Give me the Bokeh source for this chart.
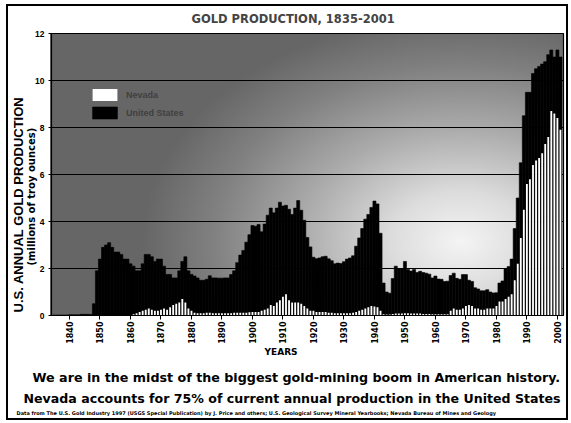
from math import pi
from bokeh.plotting import figure
from bokeh.models import Range1d, FixedTicker, Title, Legend, LegendItem, ColumnDataSource
from bokeh.embed import file_html
from bokeh.resources import INLINE

# ---------------- data (millions of troy ounces) ----------------
years = list(range(1835, 2002))

us_production = [
    # 1835-1847
    0.02, 0.02, 0.02, 0.02, 0.02, 0.03, 0.03, 0.03, 0.03, 0.05, 0.05, 0.05, 0.04,
    # 1848-1859
    0.5, 1.9, 2.4, 2.9, 3.0, 3.1, 2.9, 2.7, 2.7, 2.6, 2.4, 2.4,
    # 1860s
    2.2, 2.1, 1.9, 1.9, 2.2, 2.6, 2.6, 2.5, 2.3, 2.4,
    # 1870s
    2.4, 2.1, 1.75, 1.75, 1.6, 1.6, 1.9, 2.3, 2.5, 1.9,
    # 1880s
    1.75, 1.68, 1.6, 1.5, 1.5, 1.54, 1.69, 1.6, 1.6, 1.59,
    # 1890s
    1.59, 1.6, 1.6, 1.74, 1.9, 2.25, 2.57, 2.77, 3.12, 3.44,
    # 1900s
    3.83, 3.8, 3.87, 3.56, 3.89, 4.27, 4.57, 4.37, 4.57, 4.82,
    # 1910s
    4.66, 4.69, 4.52, 4.3, 4.57, 4.89, 4.48, 4.05, 3.32, 2.92,
    # 1920s
    2.48, 2.42, 2.45, 2.5, 2.52, 2.41, 2.33, 2.2, 2.23, 2.21,
    # 1930s
    2.29, 2.4, 2.45, 2.54, 2.95, 3.3, 3.7, 4.1, 4.3, 4.6,
    # 1940s
    4.87, 4.75, 3.5, 1.38, 1.0, 0.95, 1.57, 2.1, 2.0, 2.0,
    # 1950s
    2.3, 1.96, 1.89, 1.96, 1.83, 1.88, 1.83, 1.8, 1.76, 1.6,
    # 1960s
    1.68, 1.55, 1.54, 1.45, 1.46, 1.7, 1.8, 1.58, 1.54, 1.74,
    # 1970s
    1.74, 1.5, 1.45, 1.18, 1.13, 1.05, 1.05, 1.1, 1.0, 0.96,
    # 1980s
    0.97, 1.38, 1.47, 2.0, 2.08, 2.4, 3.7, 5.0, 6.5, 8.5,
    # 1990s
    9.5, 9.5, 10.3, 10.5, 10.6, 10.7, 10.8, 11.1, 11.3, 11.0,
    # 2000-2001
    11.3, 11.0,
]

nevada_production = [
    # 1835-1859
    0, 0, 0, 0, 0, 0, 0, 0, 0, 0, 0, 0, 0, 0, 0, 0, 0, 0, 0, 0, 0, 0, 0, 0, 0,
    # 1860s
    0.02, 0.05, 0.1, 0.15, 0.2, 0.25, 0.3, 0.25, 0.2, 0.2,
    # 1870s
    0.25, 0.3, 0.25, 0.35, 0.45, 0.5, 0.55, 0.7, 0.55, 0.3,
    # 1880s
    0.2, 0.12, 0.1, 0.1, 0.1, 0.12, 0.12, 0.1, 0.1, 0.1,
    # 1890s
    0.1, 0.1, 0.1, 0.1, 0.12, 0.12, 0.12, 0.12, 0.12, 0.14,
    # 1900s
    0.15, 0.15, 0.15, 0.2, 0.25, 0.3, 0.45, 0.4, 0.55, 0.65,
    # 1910s
    0.8, 0.9, 0.65, 0.55, 0.55, 0.55, 0.5, 0.4, 0.3, 0.2,
    # 1920s
    0.2, 0.15, 0.15, 0.15, 0.15, 0.12, 0.12, 0.1, 0.1, 0.1,
    # 1930s
    0.1, 0.1, 0.1, 0.12, 0.15, 0.2, 0.25, 0.3, 0.35, 0.4,
    # 1940s
    0.38, 0.35, 0.2, 0.05, 0.04, 0.04, 0.06, 0.08, 0.08, 0.08,
    # 1950s
    0.1, 0.1, 0.08, 0.08, 0.08, 0.08, 0.06, 0.06, 0.06, 0.05,
    # 1960s
    0.05, 0.05, 0.05, 0.05, 0.05, 0.2, 0.3, 0.25, 0.25, 0.3,
    # 1970s
    0.4, 0.45, 0.4, 0.3, 0.3, 0.25, 0.25, 0.3, 0.3, 0.3,
    # 1980s
    0.4, 0.6, 0.6, 0.7, 0.8, 0.9, 1.5, 2.2, 3.3, 4.5,
    # 1990s
    5.6, 5.8, 6.4, 6.6, 6.7, 6.9, 7.3, 7.6, 8.7, 8.6,
    # 2000-2001
    8.4, 7.9,
]

x_tick_years = list(range(1840, 2001, 10))
y_tick_values = [0, 2, 4, 6, 8, 10, 12]
series_names = ["Nevada", "United States"]

chart_title = "GOLD PRODUCTION, 1835-2001"
x_title = "YEARS"
y_title = "U.S. ANNUAL GOLD PRODUCTION"
y_subtitle = "(millions of troy ounces)"
caption_1 = "We are in the midst of the biggest gold-mining boom in American history."
caption_2 = "Nevada accounts for 75% of current annual production in the United States"
source_note = ("Data from The U.S. Gold Industry 1997 (USGS Special Publication) by J. Price and others; "
               "U.S. Geological Survey Mineral Yearbooks; Nevada Bureau of Mines and Geology")

# ---------------- figure ----------------
src = ColumnDataSource(dict(year=years, us=us_production, nv=nevada_production))

p = figure(width=562, height=416,
           x_range=Range1d(1834.1, 2002), y_range=Range1d(0, 12),
           output_backend="svg", toolbar_location=None,
           min_border_left=44, min_border_right=5,
           min_border_top=29, min_border_bottom=105)
p.styles = {
    "margin-left": "6px",
    "margin-top": "4px",
    "outline": "2px solid black",
    "outline-offset": "-2px",
    "background": ("radial-gradient(ellipse 62% 80% at 80% 74%, #f4f4f4 0%, #dcdcdc 22%, "
                   "#ababab 50%, #808080 78%, #666666 100%) 44px 29px / 513px 282px no-repeat, white"),
}
p.border_fill_alpha = 0
p.background_fill_alpha = 0
p.outline_line_color = "black"
p.outline_line_width = 1.2

us_r = p.vbar(x="year", top="us", width=1.0, source=src,
              fill_color="black", line_color="black", line_width=0.6)
nv_r = p.vbar(x="year", top="nv", width=0.6, source=src,
              fill_color="white", line_color=None)

# grid
p.xgrid.grid_line_color = None
p.ygrid.ticker = FixedTicker(ticks=y_tick_values)
p.ygrid.grid_line_color = "black"
p.ygrid.grid_line_width = 1

# axes
BOLD_FONT = "DejaVu Sans"
NARROW_FONT = "Liberation Sans"
p.xaxis.ticker = FixedTicker(ticks=x_tick_years)
p.xaxis.major_label_orientation = pi / 2
p.xaxis.major_label_text_font = BOLD_FONT
p.xaxis.major_label_text_font_style = "bold"
p.xaxis.major_label_text_font_size = "8px"
p.xaxis.major_label_text_color = "black"
p.xaxis.major_tick_out = 4
p.xaxis.major_tick_in = 0
p.xaxis.major_label_standoff = 2
p.xaxis.minor_tick_line_color = None
p.xaxis.axis_line_color = "black"

p.yaxis.ticker = FixedTicker(ticks=y_tick_values)
p.yaxis.major_label_text_font = NARROW_FONT
p.yaxis.major_label_text_font_style = "bold"
p.yaxis.major_label_text_font_size = "8.5px"
p.yaxis.major_label_text_color = "black"
p.yaxis.major_tick_out = 3
p.yaxis.major_tick_in = 0
p.yaxis.major_label_standoff = 4
p.yaxis.minor_tick_line_color = None
p.yaxis.axis_line_color = "black"

# legend
legend = Legend(items=[LegendItem(label=series_names[0], renderers=[nv_r]),
                       LegendItem(label=series_names[1], renderers=[us_r])],
                location=(38, 195), orientation="vertical")
legend.background_fill_alpha = 0
legend.border_line_color = None
legend.padding = 0
legend.margin = 0
legend.spacing = 3
legend.glyph_width = 31
legend.glyph_height = 15
legend.label_height = 15
legend.label_standoff = 6
legend.label_text_font = NARROW_FONT
legend.label_text_font_style = "bold"
legend.label_text_font_size = "9px"
legend.label_text_color = "#404040"
p.add_layout(legend, "center")

# titles / texts
p.title.text = chart_title
p.title.text_font = BOLD_FONT
p.title.text_font_style = "bold"
p.title.text_font_size = "11.5px"
p.title.align = "left"
p.title.offset = 140
p.title.vertical_align = "middle"
p.title.standoff = 13


def side_title(text, place, size, font, offset, standoff, valign="middle"):
    t = Title(text=text, text_font=font, text_font_style="bold", text_font_size=size,
              text_color="black", align="left", offset=offset, standoff=standoff,
              vertical_align=valign)
    p.add_layout(t, place)


side_title(y_subtitle, "left", "10px", BOLD_FONT, 50, -10)
side_title(y_title, "left", "13px", NARROW_FONT, 3, 6)
side_title(x_title, "below", "9px", BOLD_FONT, 213, -1)
side_title(caption_1, "below", "12.7px", BOLD_FONT, -19, 21, valign="bottom")
side_title(caption_2, "below", "12.6px", BOLD_FONT, -28, -9, valign="top")
side_title(source_note, "below", "5px", BOLD_FONT, -35, 9, valign="bottom")

open("out.html", "w").write(file_html(p, INLINE))
